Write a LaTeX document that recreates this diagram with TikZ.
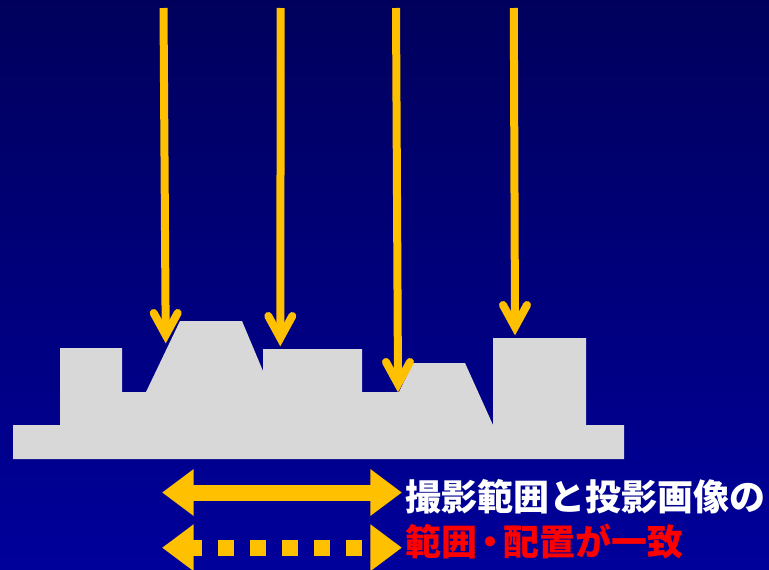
\documentclass[tikz,border=0pt]{standalone}
\usepackage{fontspec}
\newfontfamily\cjk{Noto Sans CJK JP}
\usetikzlibrary{calc}
\definecolor{bgtop}{RGB}{0,0,92}
\definecolor{bgbot}{RGB}{0,0,155}
\definecolor{yel}{RGB}{255,192,0}
\definecolor{shapegray}{RGB}{216,216,216}
\definecolor{txtred}{RGB}{255,0,0}
\tikzset{
  ray/.style={draw=yel, line width=8pt},
  chev/.style={draw=yel, line width=8pt, line cap=round, line join=miter},
  rangeshaft/.style={draw=yel, line width=16pt},
  dotshaft/.style={draw=yel, line width=16pt, dash pattern=on 16pt off 16pt},
  rangehead/.style={fill=yel},
  caption/.style={font=\cjk\bfseries\fontsize{36pt}{40pt}\selectfont, inner sep=0pt, anchor=base west},
}
\begin{document}
\begin{tikzpicture}[x=1pt,y=-1pt]
\useasboundingbox (0,0) rectangle (769,570);
\shade[top color=bgtop,bottom color=bgbot] (0,0) rectangle (769,570);
% object profile
\fill[shapegray] (13,459) -- (13,425) -- (60,425) -- (60,348) -- (122,348) -- (122,392)
  -- (146,392) -- (180,321) -- (242,321) -- (263,371) -- (263,349) -- (362,349)
  -- (362,392) -- (399,392) -- (413,363) -- (465,363) -- (493,425) -- (493,338)
  -- (586,338) -- (586,425) -- (624,425) -- (624,459) -- cycle;
% projection rays
\foreach \i/\sx/\tx/\ty in {1/163.5/165.7/335, 2/280.7/280.3/338, 3/396/398/384, 4/513.8/515/327} {
  \coordinate (s\i) at (\sx,8);
  \coordinate (t\i) at (\tx,\ty);
  \draw[ray] (s\i) -- (t\i);
  \draw[chev] ($(t\i)+(-12,-22)$) -- (t\i) -- ($(t\i)+(12,-22)$);
}
% range arrows
\coordinate (aL) at (162.3,492.5);
\coordinate (aR) at (401.7,492.5);
\draw[rangeshaft] ($(aL)+(28,0)$) -- ($(aR)+(-28,0)$);
\fill[rangehead] (aL) -- ++(31.4,-23.5) -- ++(0,47) -- cycle;
\fill[rangehead] (aR) -- ++(-31.4,-23.5) -- ++(0,47) -- cycle;
\coordinate (bL) at (162.3,547.7);
\coordinate (bR) at (401.7,547.7);
\draw[dotshaft] ($(bL)+(23.7,0)$) -- ($(bR)+(-31.7,0)$);
\fill[rangehead] (bL) -- ++(31.4,-23.5) -- ++(0,47) -- cycle;
\fill[rangehead] (bR) -- ++(-31.4,-23.5) -- ++(0,47) -- cycle;
% captions
\node[caption, text=white] (cap1) at (405,510.5) {撮影範囲と投影画像の};
\node[caption, text=txtred] (cap2) at (405,555.5) {範囲\kern-5pt・\kern-5pt配置が一致};
\end{tikzpicture}
\end{document}
